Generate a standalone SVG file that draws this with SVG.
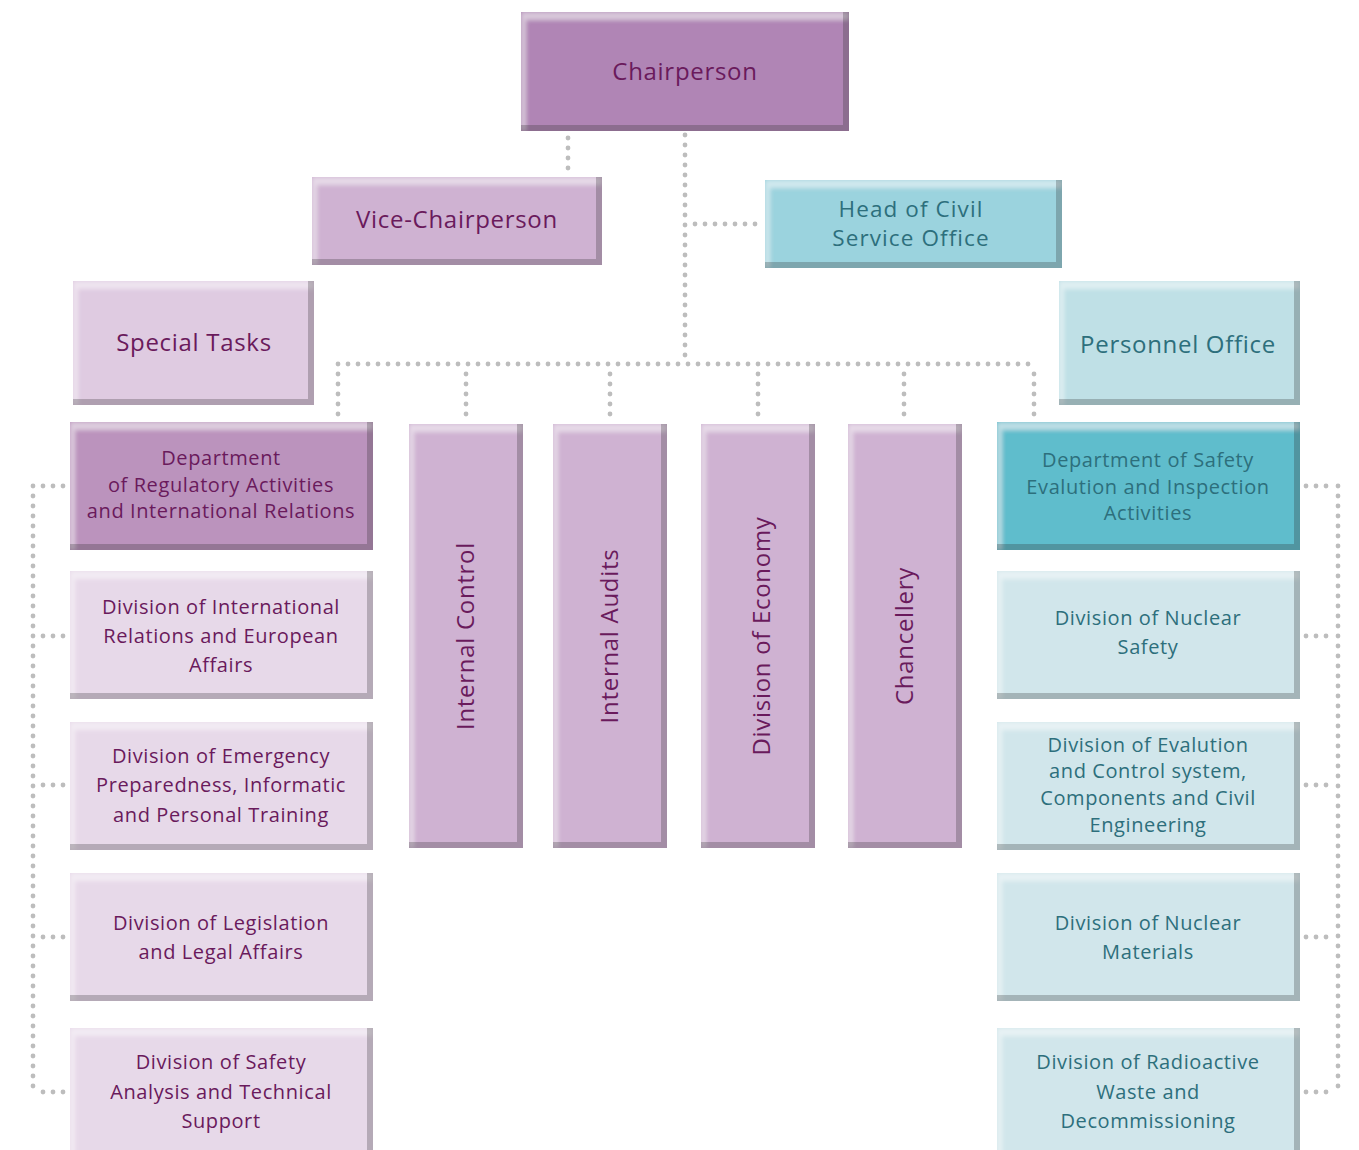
<svg xmlns="http://www.w3.org/2000/svg" width="1359" height="1150" viewBox="0 0 1359 1150">
<defs>
<filter id="bevel" x="0" y="0" width="1" height="1">
  <feOffset in="SourceAlpha" dx="-6" dy="-6" result="sh"/>
  <feComposite in="SourceAlpha" in2="sh" operator="out" result="brBand"/>
  <feFlood flood-color="#404040" flood-opacity="0.45"/>
  <feComposite in2="brBand" operator="in" result="dark"/>
  <feOffset in="SourceAlpha" dx="5" dy="8" result="sh2"/>
  <feComposite in="SourceAlpha" in2="sh2" operator="out" result="tlBand"/>
  <feGaussianBlur in="tlBand" stdDeviation="2" result="tlBlur"/>
  <feComposite in="tlBlur" in2="SourceAlpha" operator="in" result="tlClip"/>
  <feFlood flood-color="#ffffff" flood-opacity="0.45"/>
  <feComposite in2="tlClip" operator="in" result="light"/>
  <feMerge><feMergeNode in="SourceGraphic"/><feMergeNode in="light"/><feMergeNode in="dark"/></feMerge>
</filter>
</defs>
<style>
  rect.box { filter: url(#bevel); }
  .p1 { fill: #b085b5; }
  .p2 { fill: #bb93bd; }
  .p3 { fill: #cfb2d2; }
  .p4 { fill: #dfcbe1; }
  .p5 { fill: #e7d9e9; }
  .t1 { fill: #9bd3de; }
  .t2 { fill: #5fbdcc; }
  .t3 { fill: #bfe0e6; }
  .t4 { fill: #d1e6eb; }
  text { font-family: "Open Sans", "Liberation Sans", sans-serif; text-anchor: middle; }
  .pt { fill: #6a1a5c; }
  .tt { fill: #2d6f7c; }
  .big { font-size: 24px; letter-spacing: 0.7px; }
  .big2 { font-size: 22.5px; letter-spacing: 1.1px; }
  .med { font-size: 20px; letter-spacing: 0.6px; }
  .conn { fill: none; stroke: #bdbdbd; stroke-width: 4.8; stroke-linecap: round; stroke-dasharray: 0 10; }
</style>
<rect width="1359" height="1150" fill="#ffffff"/>

<g id="connectors">
  <path class="conn" d="M568 138 V172"/>
  <path class="conn" d="M685 135 V358"/>
  <path class="conn" d="M695 224 H758"/>
  <path class="conn" d="M338 364 H1034"/>
  <path class="conn" d="M338 374 V416"/>
  <path class="conn" d="M466 374 V416"/>
  <path class="conn" d="M610 374 V416"/>
  <path class="conn" d="M758 374 V416"/>
  <path class="conn" d="M904 374 V416"/>
  <path class="conn" d="M1034 374 V416"/>
  <path class="conn" d="M33 486 V1092"/>
  <path class="conn" d="M43 486 H65"/>
  <path class="conn" d="M43 636 H65"/>
  <path class="conn" d="M43 785 H65"/>
  <path class="conn" d="M43 937 H65"/>
  <path class="conn" d="M43 1092 H65"/>
  <path class="conn" d="M1338 486 V1092"/>
  <path class="conn" d="M1306 486 H1328"/>
  <path class="conn" d="M1306 636 H1328"/>
  <path class="conn" d="M1306 785 H1328"/>
  <path class="conn" d="M1306 937 H1328"/>
  <path class="conn" d="M1306 1092 H1328"/>
</g>

<g id="chairperson">
  <rect class="box p1" x="521" y="12" width="328" height="119"/>
  <text class="pt big" x="685" y="80">Chairperson</text>
</g>
<g id="vice-chairperson">
  <rect class="box p3" x="312" y="177" width="290" height="88"/>
  <text class="pt big" x="457" y="228">Vice-Chairperson</text>
</g>
<g id="head-civil-service">
  <rect class="box t1" x="765" y="180" width="297" height="88"/>
  <text class="tt big2" x="911" y="217">Head of Civil</text>
  <text class="tt big2" x="911" y="246">Service Office</text>
</g>
<g id="special-tasks">
  <rect class="box p4" x="73" y="281" width="241" height="124"/>
  <text class="pt big" x="194" y="351">Special Tasks</text>
</g>
<g id="personnel-office">
  <rect class="box t3" x="1059" y="281" width="241" height="124"/>
  <text class="tt big" x="1178" y="353">Personnel Office</text>
</g>

<g id="dept-regulatory">
  <rect class="box p2" x="70" y="422" width="303" height="128"/>
  <text class="pt med" x="221" y="465">Department</text>
  <text class="pt med" x="221" y="492">of Regulatory Activities</text>
  <text class="pt med" x="221" y="518">and International Relations</text>
</g>
<g id="internal-control">
  <rect class="box p3" x="409" y="424" width="114" height="424"/>
  <text class="pt big" transform="translate(474 636) rotate(-90)">Internal Control</text>
</g>
<g id="internal-audits">
  <rect class="box p3" x="553" y="424" width="114" height="424"/>
  <text class="pt big" transform="translate(618 636) rotate(-90)">Internal Audits</text>
</g>
<g id="division-economy">
  <rect class="box p3" x="701" y="424" width="114" height="424"/>
  <text class="pt big" transform="translate(770 636) rotate(-90)">Division of Economy</text>
</g>
<g id="chancellery">
  <rect class="box p3" x="848" y="424" width="114" height="424"/>
  <text class="pt big" transform="translate(913 636) rotate(-90)">Chancellery</text>
</g>
<g id="dept-safety">
  <rect class="box t2" x="997" y="422" width="303" height="128"/>
  <text class="tt med" x="1148" y="467">Department of Safety</text>
  <text class="tt med" x="1148" y="494">Evalution and Inspection</text>
  <text class="tt med" x="1148" y="520">Activities</text>
</g>

<g id="div-international">
  <rect class="box p5" x="70" y="571" width="303" height="128"/>
  <text class="pt med" x="221" y="614">Division of International</text>
  <text class="pt med" x="221" y="643">Relations and European</text>
  <text class="pt med" x="221" y="672">Affairs</text>
</g>
<g id="div-emergency">
  <rect class="box p5" x="70" y="722" width="303" height="128"/>
  <text class="pt med" x="221" y="763">Division of Emergency</text>
  <text class="pt med" x="221" y="792">Preparedness, Informatic</text>
  <text class="pt med" x="221" y="822">and Personal Training</text>
</g>
<g id="div-legislation">
  <rect class="box p5" x="70" y="873" width="303" height="128"/>
  <text class="pt med" x="221" y="930">Division of Legislation</text>
  <text class="pt med" x="221" y="959">and Legal Affairs</text>
</g>
<g id="div-safety-analysis">
  <rect class="box p5" x="70" y="1028" width="303" height="128"/>
  <text class="pt med" x="221" y="1069">Division of Safety</text>
  <text class="pt med" x="221" y="1099">Analysis and Technical</text>
  <text class="pt med" x="221" y="1128">Support</text>
</g>

<g id="div-nuclear-safety">
  <rect class="box t4" x="997" y="571" width="303" height="128"/>
  <text class="tt med" x="1148" y="625">Division of Nuclear</text>
  <text class="tt med" x="1148" y="654">Safety</text>
</g>
<g id="div-evalution-control">
  <rect class="box t4" x="997" y="722" width="303" height="128"/>
  <text class="tt med" x="1148" y="752">Division of Evalution</text>
  <text class="tt med" x="1148" y="778">and Control system,</text>
  <text class="tt med" x="1148" y="805">Components and Civil</text>
  <text class="tt med" x="1148" y="832">Engineering</text>
</g>
<g id="div-nuclear-materials">
  <rect class="box t4" x="997" y="873" width="303" height="128"/>
  <text class="tt med" x="1148" y="930">Division of Nuclear</text>
  <text class="tt med" x="1148" y="959">Materials</text>
</g>
<g id="div-radioactive-waste">
  <rect class="box t4" x="997" y="1028" width="303" height="128"/>
  <text class="tt med" x="1148" y="1069">Division of Radioactive</text>
  <text class="tt med" x="1148" y="1099">Waste and</text>
  <text class="tt med" x="1148" y="1128">Decommissioning</text>
</g>
</svg>
